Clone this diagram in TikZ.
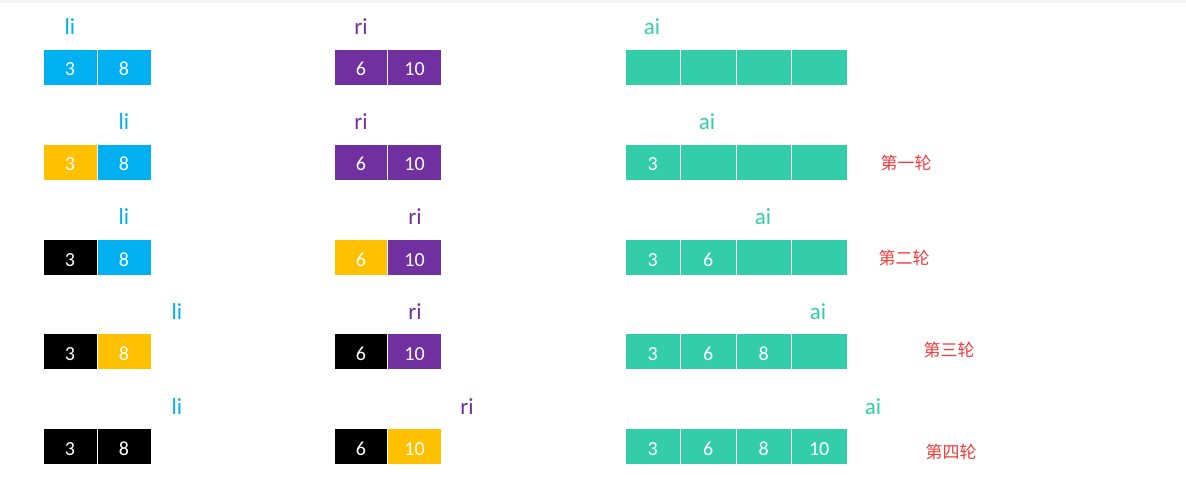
\documentclass[tikz,border=0pt]{standalone}
\usepackage{fontspec}
\setmainfont{Carlito}
\newfontfamily\cjkfont{Noto Sans CJK SC}
\usepackage{xcolor}
\definecolor{liblue}{HTML}{00B0F0}
\definecolor{ripurple}{HTML}{7030A0}
\definecolor{aigreen}{HTML}{33CDA9}
\definecolor{doneorange}{HTML}{FFC000}
\definecolor{roundred}{HTML}{F23A3A}
\definecolor{topgrey}{HTML}{F4F4F4}

\begin{document}
\begin{tikzpicture}[x=1pt, y=-1pt,
  cell/.style={draw=white, line width=0.8pt, inner sep=0pt, minimum height=36pt,
    text=white, text height=18pt, text depth=0pt, font=\fontsize{20}{24}\selectfont},
  lcell/.style={cell, minimum width=54pt},
  rcell/.style={cell, minimum width=53.5pt},
  acell/.style={cell, fill=aigreen, minimum width=55.5pt},
  ptr/.style={anchor=base, font=\fontsize{23}{27}\selectfont},
  round/.style={text=roundred, font=\cjkfont\fontsize{17}{20}\selectfont}]

  \useasboundingbox (0,0) rectangle (1186,497);
  \fill[topgrey] (0,0) rectangle (1186,3);

  % Row 1: start
  \node[lcell, fill=liblue] (L1a) at (70,67) {3};
  \node[lcell, fill=liblue] (L1b) at (124,67) {8};
  \node[rcell, fill=ripurple] (R1a) at (361,67) {6};
  \node[rcell, fill=ripurple] (R1b) at (414.5,67) {10};
  \node[acell] (A1a) at (652.7,67) {};
  \node[acell] (A1b) at (708.2,67) {};
  \node[acell] (A1c) at (763.7,67) {};
  \node[acell] (A1d) at (819.2,67) {};
  \node[ptr, text=liblue] (li1) at (70,35) {li};
  \node[ptr, text=ripurple] (ri1) at (361,35) {ri};
  \node[ptr, text=aigreen] (ai1) at (652,35) {ai};

  % Row 2
  \node[lcell, fill=doneorange] (L2a) at (70,162) {3};
  \node[lcell, fill=liblue] (L2b) at (124,162) {8};
  \node[rcell, fill=ripurple] (R2a) at (361,162) {6};
  \node[rcell, fill=ripurple] (R2b) at (414.5,162) {10};
  \node[acell] (A2a) at (652.7,162) {3};
  \node[acell] (A2b) at (708.2,162) {};
  \node[acell] (A2c) at (763.7,162) {};
  \node[acell] (A2d) at (819.2,162) {};
  \node[ptr, text=liblue] (li2) at (124,130) {li};
  \node[ptr, text=ripurple] (ri2) at (361,130) {ri};
  \node[ptr, text=aigreen] (ai2) at (707,130) {ai};
  \node[round] (r1) at (906,163) {第一轮};

  % Row 3
  \node[lcell, fill=black] (L3a) at (70,257) {3};
  \node[lcell, fill=liblue] (L3b) at (124,257) {8};
  \node[rcell, fill=doneorange] (R3a) at (361,257) {6};
  \node[rcell, fill=ripurple] (R3b) at (414.5,257) {10};
  \node[acell] (A3a) at (652.7,257) {3};
  \node[acell] (A3b) at (708.2,257) {6};
  \node[acell] (A3c) at (763.7,257) {};
  \node[acell] (A3d) at (819.2,257) {};
  \node[ptr, text=liblue] (li3) at (124,225) {li};
  \node[ptr, text=ripurple] (ri3) at (415,225) {ri};
  \node[ptr, text=aigreen] (ai3) at (763,225) {ai};
  \node[round] (r2) at (904,258) {第二轮};

  % Row 4
  \node[lcell, fill=black] (L4a) at (70,351) {3};
  \node[lcell, fill=doneorange] (L4b) at (124,351) {8};
  \node[rcell, fill=black] (R4a) at (361,351) {6};
  \node[rcell, fill=ripurple] (R4b) at (414.5,351) {10};
  \node[acell] (A4a) at (652.7,351) {3};
  \node[acell] (A4b) at (708.2,351) {6};
  \node[acell] (A4c) at (763.7,351) {8};
  \node[acell] (A4d) at (819.2,351) {};
  \node[ptr, text=liblue] (li4) at (177,319) {li};
  \node[ptr, text=ripurple] (ri4) at (415,319) {ri};
  \node[ptr, text=aigreen] (ai4) at (818,319) {ai};
  \node[round] (r3) at (949,350) {第三轮};

  % Row 5: done
  \node[lcell, fill=black] (L5a) at (70,446) {3};
  \node[lcell, fill=black] (L5b) at (124,446) {8};
  \node[rcell, fill=black] (R5a) at (361,446) {6};
  \node[rcell, fill=doneorange] (R5b) at (414.5,446) {10};
  \node[acell] (A5a) at (652.7,446) {3};
  \node[acell] (A5b) at (708.2,446) {6};
  \node[acell] (A5c) at (763.7,446) {8};
  \node[acell] (A5d) at (819.2,446) {10};
  \node[ptr, text=liblue] (li5) at (177,414) {li};
  \node[ptr, text=ripurple] (ri5) at (467,414) {ri};
  \node[ptr, text=aigreen] (ai5) at (873,414) {ai};
  \node[round] (r4) at (951,452) {第四轮};
\end{tikzpicture}
\end{document}
